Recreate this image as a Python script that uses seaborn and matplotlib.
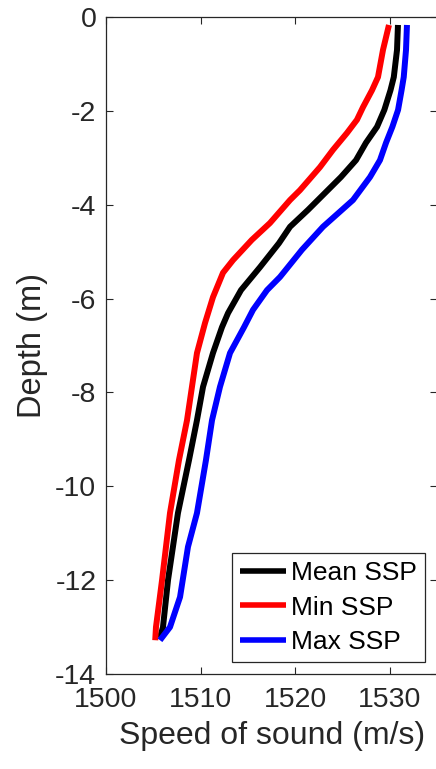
import numpy as np
import pandas as pd
import matplotlib
matplotlib.use("Agg")
import matplotlib.pyplot as plt
import seaborn as sns

# ---- data ----
mean_depth = [-0.17, -0.70, -1.28, -1.56, -1.98, -2.34, -2.68, -3.05, -3.41, -3.75, -4.11, -4.47,
              -4.82, -5.33, -5.82, -6.31, -6.61, -7.16, -7.88, -8.59, -9.44, -10.57, -12.00, -13.00, -13.23]
mean_speed = [1530.84, 1530.74, 1530.40, 1530.05, 1529.40, 1528.63, 1527.46, 1526.41, 1524.82, 1523.13,
              1521.34, 1519.44, 1518.27, 1516.27, 1514.26, 1512.89, 1512.25, 1511.30, 1510.25, 1509.61,
              1508.77, 1507.60, 1506.55, 1506.02, 1505.70]

min_depth = [-0.17, -0.70, -1.28, -1.56, -1.92, -2.19, -2.47, -2.83, -3.20, -3.69, -3.90, -4.39,
             -4.75, -5.18, -5.45, -5.97, -6.52, -7.16, -7.88, -8.59, -9.44, -10.57, -12.00, -13.00, -13.28]
min_speed = [1529.89, 1529.26, 1528.73, 1528.10, 1527.15, 1526.51, 1525.46, 1523.98, 1522.60, 1520.49,
             1519.44, 1517.32, 1515.40, 1513.42, 1512.36, 1511.30, 1510.46, 1509.61, 1509.08, 1508.56,
             1507.71, 1506.76, 1505.92, 1505.28, 1505.20]

max_depth = [-0.17, -0.70, -1.28, -1.56, -1.98, -2.34, -2.68, -3.05, -3.41, -3.90, -4.47, -4.96,
             -5.54, -5.82, -6.24, -6.61, -7.16, -7.88, -8.59, -9.44, -10.57, -11.29, -12.36, -13.00, -13.28]
max_speed = [1531.79, 1531.69, 1531.45, 1531.22, 1530.85, 1530.25, 1529.58, 1528.94, 1527.89, 1526.09,
             1522.92, 1520.70, 1518.38, 1517.01, 1515.53, 1514.58, 1513.10, 1512.04, 1511.20, 1510.56,
             1509.61, 1508.66, 1507.82, 1506.76, 1505.70]

series_names = ["Mean SSP", "Min SSP", "Max SSP"]
series_colors = ["black", "red", "blue"]

x_ticks = [1500, 1510, 1520, 1530]
y_ticks = [0, -2, -4, -6, -8, -10, -12, -14]

frames = []
for name, d, s in zip(series_names,
                      [mean_depth, min_depth, max_depth],
                      [mean_speed, min_speed, max_speed]):
    frames.append(pd.DataFrame({"depth": d, "speed": s, "series": name}))
df = pd.concat(frames, ignore_index=True)

sns.set_style("ticks")
plt.rcParams["font.family"] = ["Liberation Sans", "DejaVu Sans"]

dark = (0.15, 0.15, 0.15)
fig = plt.figure(figsize=(4.36, 7.69), dpi=100)
ax = fig.add_axes([0.2431, 0.1235, 0.760, 0.8544])

sns.lineplot(data=df, x="speed", y="depth", hue="series", hue_order=series_names,
             palette=dict(zip(series_names, series_colors)), sort=False, estimator=None,
             linewidth=4.3, ax=ax)
for ln in ax.get_lines():
    ln.set_solid_joinstyle("round")
    ln.set_solid_capstyle("butt")

ax.set_xlim(1500, 1535)
ax.set_ylim(-14, 0)
ax.set_xticks(x_ticks)
ax.set_yticks(y_ticks)
ax.set_xticklabels([str(v) for v in x_ticks])
ax.set_yticklabels([str(v) for v in y_ticks])
ax.set_xlabel("Speed of sound (m/s)", fontsize=23, color=dark, labelpad=6)
ax.set_ylabel("Depth (m)", fontsize=23.5, color=dark, labelpad=5)

for sp in ax.spines.values():
    sp.set_visible(True)
    sp.set_color(dark)
    sp.set_linewidth(0.9)
ax.tick_params(axis="both", which="both", direction="in", length=5, width=0.8,
               colors=dark, labelsize=20.5, top=True, right=True, pad=7)
ax.tick_params(axis="x", pad=9)

handles, labels = ax.get_legend_handles_labels()
leg = ax.legend(handles, labels, loc="lower right", bbox_to_anchor=(0.963, 0.018),
                borderaxespad=0, fontsize=19, frameon=True, fancybox=False,
                framealpha=1, edgecolor=dark, handlelength=1.75, handletextpad=0.2,
                labelspacing=0.4, borderpad=0.3)
leg.get_frame().set_linewidth(0.9)
for t in leg.get_texts():
    t.set_color("black")
for ln in leg.get_lines():
    ln.set_linewidth(4.0)

fig.savefig("out.png", dpi=100)
